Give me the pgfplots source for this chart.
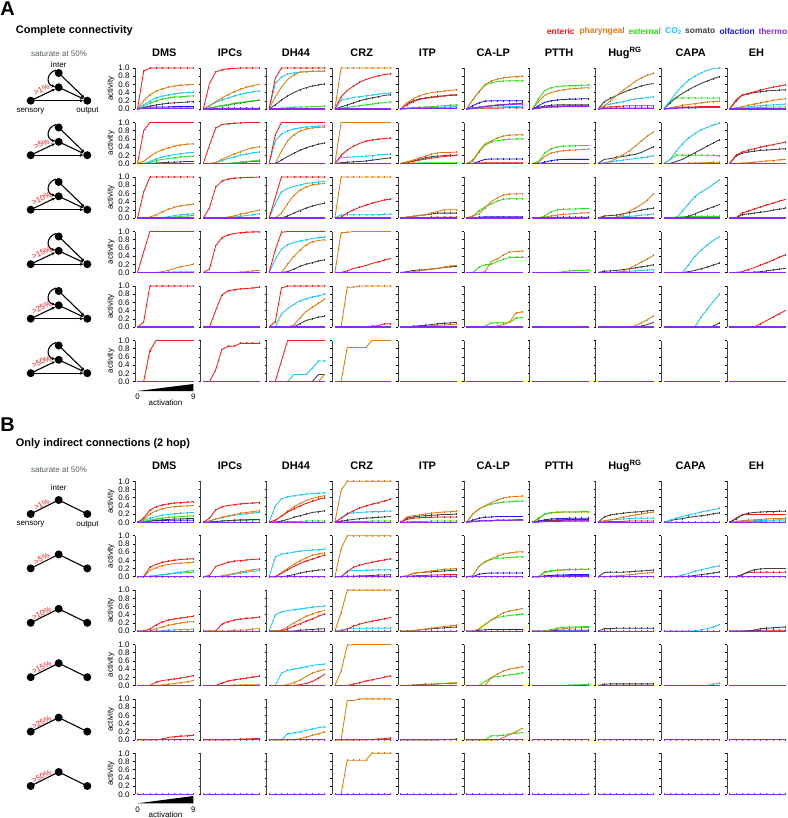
\documentclass[border=0pt]{standalone}
\usepackage{fontspec}
\setmainfont{Liberation Sans}
\usepackage{pgfplots}
\pgfplotsset{compat=1.18}
\usetikzlibrary{arrows.meta}
\definecolor{cE}{RGB}{255,25,25}
\definecolor{cP}{RGB}{228,122,12}
\definecolor{cX}{RGB}{40,228,20}
\definecolor{cC}{RGB}{25,200,255}
\definecolor{cS}{RGB}{60,64,64}
\definecolor{cO}{RGB}{25,25,240}
\definecolor{cT}{RGB}{140,40,255}
\definecolor{cG}{RGB}{85,95,95}
\pgfplotsset{
 ln/.style={line width=0.85pt, mark=|, mark size=0.9pt, mark options={solid,line width=0.4pt}},
 sE/.style={ln,cE}, sP/.style={ln,cP}, sX/.style={ln,cX}, sC/.style={ln,cC},
 sS/.style={ln,cS}, sO/.style={ln,cO}, sT/.style={ln,cT,line width=1.2pt},
 cellax/.style={scale only axis, width=58.6bp, height=41bp, xmin=-0.405, xmax=9.1,
  ymin=0, ymax=1, clip=false, anchor=south west,
  axis x line=none, axis y line=left,
  y axis line style={-, line width=0.9pt, black!75},
  every outer y axis line/.append style={-},
  ytick={0,0.2,0.4,0.6,0.8,1}, tick align=outside, major tick length=2bp,
  ytick style={line width=0.6pt, black},
  yticklabels={,,,,,}, xtick=\empty,
  tick label style={font=\fontsize{8}{9}\selectfont},
  title style={at={(0.5,1)}, anchor=base, yshift=6bp, font=\bfseries\fontsize{11}{12}\selectfont},
  /pgf/number format/assume math mode=true},
 first/.style={yticklabels={0.0,0.2,0.4,0.6,0.8,1.0}, ylabel=activity,
  ylabel style={font=\fontsize{8}{9}\selectfont}, ylabel shift=-3bp}
}
\newcommand\sr[2]{\addplot[#1] table[x expr=\coordindex, y index=0, header=false, row sep=\\]{#2};}
\newcommand\Z{\sr{sT}{0\\0\\0\\0\\0\\0\\0\\0\\0\\0\\}}
\newcommand\cell[4]{%
\begin{axis}[cellax, at={({(135+65.8*#1)*1bp},{-(#2)*1bp})}, #3]
#4
\end{axis}}
\newcommand\netA[2]{%
 \fill (58.7,#1-36) circle (4bp) (58.7,#1-21.7) circle (4bp) (30.7,#1-8.3) circle (4bp) (87.3,#1-8.3) circle (4bp);
 \begin{scope}[line width=1.1pt, -{Stealth[length=3.5bp,width=3.2bp]}]
 \draw[shorten <=3bp, shorten >=4bp] (30.7,#1-8.3) -- (58.7,#1-21.7);
 \draw[shorten <=3bp, shorten >=4bp] (30.7,#1-8.3) -- (87.3,#1-8.3);
 \draw[shorten <=3bp, shorten >=4bp] (58.7,#1-36) -- (87.3,#1-8.3);
 \draw[shorten <=3bp, shorten >=4bp] (58.7,#1-21.7) -- (87.3,#1-8.3);
 \draw (56,#1-39) .. controls (46,#1-36) and (46,#1-24) .. (55.2,#1-22.5);
 \end{scope}
 \node[cE, rotate=26, font=\fontsize{8}{9}\selectfont, inner sep=0] at (41.5,#1-19.5) {#2};}
\newcommand\netB[2]{%
 \fill (58.7,#1-22.3) circle (4bp) (30.7,#1-8.3) circle (4bp) (87.3,#1-8.3) circle (4bp);
 \draw[line width=1.1pt] (30.7,#1-8.3) -- (58.7,#1-22.3) -- (87.3,#1-8.3);
 \node[cE, rotate=27, font=\fontsize{8}{9}\selectfont, inner sep=0] at (41.5,#1-17.8) {#2};}
\begin{document}
\begin{tikzpicture}
\useasboundingbox (0,0) rectangle (788bp,-818bp);
\begin{scope}[x=1bp,y=-1bp]
 \node[font=\bfseries\fontsize{20}{22}\selectfont, inner sep=0] at (7.5,8.5) {A};
 \node[font=\bfseries\fontsize{11}{12}\selectfont, anchor=west, inner sep=0] at (15.7,30.7) {Complete connectivity};
 \node[font=\bfseries\fontsize{20}{22}\selectfont, inner sep=0] at (7.5,424.5) {B};
 \node[font=\bfseries\fontsize{11}{12}\selectfont, anchor=west, inner sep=0] at (15.7,443.3) {Only indirect connections (2 hop)};
 \begin{scope}[every node/.style={font=\bfseries\fontsize{8.5}{9}\selectfont, anchor=west, inner sep=0}]
 \node[cE] at (546.7,31) {enteric};
 \node[cP] at (579.3,31) {pharyngeal};
 \node[cX] at (628.3,31) {external};
 \node[cC] at (665,31) {CO\textsubscript{2}};
 \node[cS] at (685,31) {somato};
 \node[cO] at (719.3,31) {olfaction};
 \node[cT] at (758.3,31) {thermo};
 \end{scope}
 \begin{scope}[every node/.style={font=\fontsize{8}{9}\selectfont, inner sep=0}]
 \node[cG] at (59,54) {saturate at 50\%};
 \node at (58.7,65) {inter};
 \node at (30.5,110.7) {sensory};
 \node at (87.5,110.7) {output};
 \node[cG] at (59,470) {saturate at 50\%};
 \node at (58.7,487.3) {inter};
 \node at (30.5,524.3) {sensory};
 \node at (87.5,524.3) {output};
 \fill (137.7,391) -- (193.3,384) -- (193.3,391) -- cycle;
 \node at (137.7,397) {0};
 \node at (193.3,397) {9};
 \node at (165.5,402.7) {activation};
 \fill (137.7,803.3) -- (193.3,796) -- (193.3,803.3) -- cycle;
 \node at (137.7,809.3) {0};
 \node at (193.3,809.3) {9};
 \node at (165.5,815) {activation};
 \end{scope}
 \netA{109}{>1\%}
 \netA{163.5}{>5\%}
 \netA{218}{>10\%}
 \netA{272.5}{>15\%}
 \netA{327}{>25\%}
 \netA{381.5}{>50\%}
 \netB{522.3}{>1\%}
 \netB{576.7}{>5\%}
 \netB{631.1}{>10\%}
 \netB{685.5}{>15\%}
 \netB{739.9}{>25\%}
 \netB{794.3}{>50\%}
\end{scope}
% ================= PANEL A =================
% ---- row 1 (>1%)
\cell{0}{109}{first,title=DMS}{
 \sr{sO}{0\\.04\\.05\\.05\\.05\\.05\\.06\\.06\\.06\\.06\\}
 \sr{sS}{0\\.03\\.07\\.1\\.12\\.14\\.15\\.16\\.17\\.18\\}
 \sr{sX}{0\\.06\\.14\\.2\\.24\\.27\\.29\\.3\\.31\\.32\\}
 \sr{sC}{0\\.1\\.2\\.27\\.31\\.34\\.37\\.39\\.4\\.41\\}
 \sr{sP}{0\\.2\\.35\\.43\\.49\\.53\\.56\\.58\\.59\\.6\\}
 \sr{sE}{0\\.92\\1\\1\\1\\1\\1\\1\\1\\1\\}
 \sr{sT}{0\\.02\\.02\\.02\\.02\\.02\\.02\\.02\\.02\\.02\\}}
\cell{1}{109}{title=IPCs}{
 \sr{sO}{0\\.01\\.02\\.02\\.02\\.02\\.02\\.02\\.02\\.02\\}
 \sr{sS}{0\\.02\\.05\\.08\\.1\\.13\\.15\\.17\\.19\\.21\\}
 \sr{sX}{0\\.02\\.05\\.08\\.11\\.14\\.16\\.18\\.2\\.22\\}
 \sr{sC}{0\\.08\\.16\\.22\\.27\\.32\\.36\\.39\\.42\\.44\\}
 \sr{sP}{0\\.08\\.18\\.27\\.35\\.42\\.48\\.53\\.57\\.6\\}
 \sr{sE}{0\\.62\\.9\\.96\\.98\\.99\\1\\1\\1\\1\\}
 \Z}
\cell{2}{109}{title=DH44}{
 \sr{sS}{0\\.1\\.22\\.32\\.4\\.47\\.52\\.56\\.59\\.61\\}
 \sr{sX}{0\\.01\\.02\\.03\\.04\\.05\\.05\\.06\\.06\\.07\\}
 \sr{sC}{0\\.62\\.78\\.85\\.88\\.9\\.91\\.92\\.92\\.93\\}
 \sr{sP}{0\\.3\\.53\\.72\\.83\\.9\\.91\\.92\\.92\\.92\\}
 \sr{sE}{0\\.75\\1\\1\\1\\1\\1\\1\\1\\1\\}
 \Z}
\cell{3}{109}{title=CRZ}{
 \sr{sS}{0\\.05\\.1\\.15\\.2\\.24\\.27\\.3\\.33\\.35\\}
 \sr{sX}{0\\.02\\.04\\.06\\.08\\.1\\.12\\.14\\.16\\.17\\}
 \sr{sC}{0\\.22\\.25\\.28\\.3\\.32\\.34\\.36\\.38\\.39\\}
 \sr{sE}{0\\.3\\.45\\.56\\.65\\.72\\.77\\.81\\.84\\.86\\}
 \sr{sP}{0\\1\\1\\1\\1\\1\\1\\1\\1\\1\\}
 \Z}
\cell{4}{109}{title=ITP}{
 \sr{sX}{0\\.02\\.03\\.04\\.05\\.06\\.07\\.08\\.09\\.1\\}
 \sr{sC}{0\\.01\\.02\\.03\\.03\\.04\\.04\\.05\\.05\\.06\\}
 \sr{sS}{0\\.13\\.2\\.24\\.27\\.29\\.31\\.32\\.33\\.34\\}
 \sr{sE}{0\\.1\\.18\\.23\\.26\\.28\\.3\\.32\\.34\\.35\\}
 \sr{sP}{0\\.15\\.25\\.32\\.37\\.4\\.42\\.44\\.45\\.47\\}
 \sr{sT}{0\\.01\\.02\\.02\\.02\\.02\\.02\\.02\\.02\\.02\\}}
\cell{5}{109}{title=CA-LP}{
 \sr{sE}{0\\.01\\.01\\.02\\.02\\.02\\.03\\.03\\.03\\.03\\}
 \sr{sC}{0\\.01\\.02\\.03\\.04\\.05\\.05\\.06\\.06\\.07\\}
 \sr{sS}{0\\.02\\.04\\.06\\.08\\.1\\.11\\.12\\.13\\.14\\}
 \sr{sO}{0\\.08\\.15\\.19\\.2\\.2\\.2\\.2\\.2\\.2\\}
 \sr{sX}{0\\.22\\.42\\.58\\.64\\.67\\.68\\.69\\.69\\.69\\}
 \sr{sP}{0\\.22\\.42\\.6\\.68\\.73\\.76\\.78\\.79\\.8\\}
 \sr{sT}{0\\.02\\.04\\.06\\.08\\.09\\.1\\.11\\.12\\.12\\}}
\cell{6}{109}{title=PTTH}{
 \sr{sE}{0\\.03\\.05\\.06\\.07\\.07\\.08\\.08\\.08\\.08\\}
 \sr{sS}{0\\.04\\.07\\.09\\.1\\.1\\.1\\.1\\.1\\.1\\}
 \sr{sO}{0\\.08\\.16\\.2\\.22\\.23\\.24\\.24\\.25\\.25\\}
 \sr{sP}{0\\.18\\.33\\.4\\.44\\.47\\.49\\.5\\.51\\.52\\}
 \sr{sX}{0\\.25\\.45\\.52\\.55\\.56\\.57\\.57\\.58\\.58\\}
 \sr{sT}{0\\.02\\.04\\.05\\.05\\.06\\.06\\.06\\.06\\.06\\}}
\cell{7}{109}{title={Hug\textsuperscript{RG}}}{
 \sr{sE}{0\\.04\\.05\\.06\\.07\\.08\\.08\\.08\\.08\\.08\\}
 \sr{sC}{0\\.08\\.12\\.15\\.18\\.21\\.24\\.26\\.28\\.3\\}
 \sr{sS}{0\\.18\\.26\\.33\\.4\\.46\\.51\\.56\\.6\\.62\\}
 \sr{sP}{0\\.08\\.2\\.33\\.45\\.56\\.67\\.76\\.82\\.87\\}
 \sr{sT}{0\\.01\\.02\\.02\\.02\\.02\\.02\\.02\\.02\\.02\\}}
\cell{8}{109}{title=CAPA}{
 \sr{sE}{0\\.02\\.03\\.04\\.05\\.05\\.06\\.06\\.06\\.06\\}
 \sr{sP}{0\\.03\\.06\\.09\\.11\\.13\\.15\\.17\\.18\\.19\\}
 \sr{sX}{0\\.2\\.27\\.27\\.27\\.27\\.27\\.27\\.27\\.27\\}
 \sr{sS}{0\\.15\\.28\\.38\\.47\\.55\\.62\\.68\\.74\\.79\\}
 \sr{sC}{0\\.2\\.4\\.57\\.7\\.8\\.88\\.94\\.99\\1\\}
 \sr{sT}{0\\.01\\.02\\.03\\.03\\.03\\.04\\.04\\.04\\.04\\}}
\cell{9}{109}{title=EH}{
 \sr{sX}{0\\.01\\.02\\.03\\.03\\.04\\.04\\.05\\.05\\.05\\}
 \sr{sC}{0\\.02\\.04\\.05\\.07\\.08\\.09\\.1\\.11\\.12\\}
 \sr{sP}{0\\.03\\.06\\.09\\.12\\.15\\.18\\.21\\.23\\.25\\}
 \sr{sS}{0\\.2\\.33\\.37\\.4\\.42\\.44\\.45\\.46\\.47\\}
 \sr{sE}{0\\.22\\.34\\.38\\.42\\.46\\.5\\.53\\.56\\.59\\}
 \Z}
% ---- row 2 (>5%)
\cell{0}{163.5}{first}{
 \sr{sS}{0\\0\\0\\.01\\.02\\.03\\.03\\.04\\.05\\.05\\}
 \sr{sX}{0\\0\\.03\\.07\\.1\\.12\\.14\\.16\\.17\\.18\\}
 \sr{sC}{0\\0\\.05\\.11\\.16\\.19\\.22\\.24\\.26\\.27\\}
 \sr{sP}{0\\.05\\.17\\.27\\.33\\.38\\.42\\.45\\.47\\.48\\}
 \sr{sE}{0\\.8\\1\\1\\1\\1\\1\\1\\1\\1\\}
 \Z}
\cell{1}{163.5}{}{
 \sr{sS}{0\\0\\0\\0\\0\\.01\\.02\\.04\\.05\\.06\\}
 \sr{sX}{0\\0\\0\\0\\0\\.01\\.03\\.05\\.06\\.08\\}
 \sr{sC}{0\\0\\.02\\.07\\.12\\.16\\.2\\.23\\.26\\.28\\}
 \sr{sP}{0\\0\\.02\\.1\\.17\\.23\\.29\\.34\\.38\\.41\\}
 \sr{sE}{0\\.45\\.86\\.95\\.97\\.98\\.99\\1\\1\\1\\}
 \Z}
\cell{2}{163.5}{}{
 \sr{sS}{0\\0\\.08\\.17\\.25\\.32\\.38\\.43\\.47\\.5\\}
 \sr{sC}{0\\.55\\.72\\.79\\.84\\.87\\.89\\.9\\.91\\.92\\}
 \sr{sP}{0\\0\\.3\\.55\\.7\\.79\\.84\\.87\\.88\\.89\\}
 \sr{sE}{0\\.7\\1\\1\\1\\1\\1\\1\\1\\1\\}
 \Z}
\cell{3}{163.5}{}{
 \sr{sS}{0\\.02\\.03\\.04\\.05\\.06\\.08\\.1\\.12\\.14\\}
 \sr{sC}{0\\.15\\.15\\.16\\.17\\.18\\.19\\.21\\.22\\.23\\}
 \sr{sE}{0\\.2\\.33\\.42\\.49\\.54\\.57\\.59\\.61\\.62\\}
 \sr{sP}{0\\1\\1\\1\\1\\1\\1\\1\\1\\1\\}
 \Z}
\cell{4}{163.5}{}{
 \sr{sX}{0\\.01\\.01\\.01\\.02\\.02\\.02\\.02\\.02\\.02\\}
 \sr{sS}{0\\.03\\.06\\.1\\.14\\.17\\.18\\.19\\.2\\.2\\}
 \sr{sE}{0\\.02\\.05\\.08\\.11\\.13\\.15\\.17\\.19\\.2\\}
 \sr{sP}{0\\.04\\.08\\.13\\.18\\.23\\.26\\.27\\.27\\.28\\}
 \Z}
\cell{5}{163.5}{}{
 \sr{sE}{0\\0\\.01\\.02\\.02\\.02\\.02\\.02\\.02\\.02\\}
 \sr{sO}{0\\0\\.05\\.1\\.11\\.11\\.11\\.11\\.11\\.11\\}
 \sr{sX}{0\\.05\\.28\\.45\\.52\\.56\\.58\\.59\\.6\\.6\\}
 \sr{sP}{0\\.08\\.3\\.48\\.55\\.62\\.67\\.69\\.7\\.7\\}
 \Z}
\cell{6}{163.5}{}{
 \sr{sO}{0\\0\\.03\\.07\\.09\\.1\\.1\\.1\\.1\\.1\\}
 \sr{sP}{0\\.03\\.17\\.25\\.29\\.31\\.32\\.33\\.34\\.35\\}
 \sr{sX}{0\\.05\\.25\\.36\\.4\\.42\\.43\\.43\\.44\\.44\\}
 \Z}
\cell{7}{163.5}{}{
 \sr{sC}{0\\.02\\.04\\.06\\.08\\.1\\.12\\.14\\.16\\.19\\}
 \sr{sS}{0\\.1\\.12\\.15\\.17\\.2\\.22\\.27\\.34\\.41\\}
 \sr{sP}{0\\0\\.05\\.13\\.21\\.3\\.42\\.55\\.67\\.77\\}
 \Z}
\cell{8}{163.5}{}{
 \sr{sP}{0\\0\\0\\0\\.01\\.01\\.02\\.02\\.03\\.03\\}
 \sr{sX}{0\\.1\\.2\\.2\\.2\\.2\\.2\\.2\\.2\\.19\\}
 \sr{sS}{0\\0\\.05\\.1\\.18\\.26\\.34\\.42\\.5\\.58\\}
 \sr{sC}{0\\.1\\.3\\.48\\.62\\.73\\.82\\.88\\.94\\.98\\}
 \Z}
\cell{9}{163.5}{}{
 \sr{sP}{0\\0\\.01\\.02\\.03\\.05\\.06\\.07\\.09\\.1\\}
 \sr{sS}{0\\.18\\.25\\.28\\.3\\.32\\.33\\.34\\.35\\.36\\}
 \sr{sE}{0\\.2\\.28\\.32\\.36\\.4\\.43\\.46\\.49\\.52\\}
 \Z}
% ---- row 3 (>10%)
\cell{0}{218}{first}{
 \sr{sX}{0\\0\\0\\0\\0\\.01\\.02\\.04\\.05\\.06\\}
 \sr{sC}{0\\0\\0\\0\\.01\\.03\\.06\\.08\\.09\\.1\\}
 \sr{sP}{0\\0\\.02\\.08\\.15\\.21\\.26\\.3\\.32\\.34\\}
 \sr{sE}{0\\.63\\1\\1\\1\\1\\1\\1\\1\\1\\}
 \Z}
\cell{1}{218}{}{
 \sr{sC}{0\\0\\0\\0\\0\\.02\\.04\\.06\\.08\\.1\\}
 \sr{sP}{0\\0\\0\\0\\.02\\.05\\.09\\.12\\.16\\.19\\}
 \sr{sE}{0\\.25\\.75\\.9\\.95\\.97\\.98\\.99\\.99\\1\\}
 \Z}
\cell{2}{218}{}{
 \sr{sS}{0\\0\\0\\.05\\.12\\.18\\.24\\.29\\.33\\.36\\}
 \sr{sC}{0\\.35\\.64\\.72\\.77\\.81\\.84\\.86\\.88\\.89\\}
 \sr{sP}{0\\0\\.12\\.35\\.55\\.68\\.76\\.81\\.83\\.84\\}
 \sr{sE}{0\\.5\\1\\1\\1\\1\\1\\1\\1\\1\\}
 \Z}
\cell{3}{218}{}{
 \sr{sC}{0\\.08\\.08\\.08\\.08\\.08\\.08\\.08\\.09\\.09\\}
 \sr{sE}{0\\.02\\.12\\.2\\.26\\.31\\.36\\.4\\.44\\.46\\}
 \sr{sP}{0\\1\\1\\1\\1\\1\\1\\1\\1\\1\\}
 \Z}
\cell{4}{218}{}{
 \sr{sE}{0\\.01\\.01\\.01\\.01\\.02\\.02\\.02\\.02\\.02\\}
 \sr{sS}{0\\.02\\.04\\.06\\.08\\.1\\.12\\.12\\.12\\.12\\}
 \sr{sP}{0\\.02\\.04\\.06\\.08\\.12\\.16\\.2\\.2\\.2\\}
 \Z}
\cell{5}{218}{}{
 \sr{sO}{0\\0\\.02\\.03\\.03\\.03\\.03\\.03\\.03\\.03\\}
 \sr{sX}{0\\.03\\.18\\.27\\.35\\.41\\.46\\.47\\.47\\.47\\}
 \sr{sP}{0\\.05\\.1\\.25\\.4\\.49\\.56\\.58\\.59\\.59\\}
 \Z}
\cell{6}{218}{}{
 \sr{sO}{0\\0\\.01\\.02\\.02\\.02\\.02\\.02\\.02\\.02\\}
 \sr{sP}{0\\0\\.02\\.05\\.07\\.09\\.1\\.11\\.12\\.13\\}
 \sr{sX}{0\\0\\.05\\.15\\.2\\.21\\.22\\.22\\.23\\.23\\}
 \Z}
\cell{7}{218}{}{
 \sr{sC}{0\\0\\.01\\.02\\.03\\.04\\.05\\.07\\.08\\.1\\}
 \sr{sS}{0\\.05\\.06\\.07\\.1\\.13\\.16\\.19\\.22\\.24\\}
 \sr{sP}{0\\0\\0\\.02\\.08\\.16\\.24\\.33\\.44\\.59\\}
 \Z}
\cell{8}{218}{}{
 \sr{sX}{0\\0\\.02\\.03\\.04\\.04\\.04\\.04\\.04\\.04\\}
 \sr{sS}{0\\0\\0\\0\\.04\\.1\\.16\\.22\\.27\\.33\\}
 \sr{sC}{0\\0\\0\\.17\\.35\\.52\\.63\\.72\\.82\\.93\\}
 \Z}
\cell{9}{218}{}{
 \sr{sS}{0\\0\\.08\\.1\\.12\\.14\\.16\\.19\\.21\\.24\\}
 \sr{sE}{0\\0\\.12\\.17\\.22\\.27\\.32\\.36\\.41\\.45\\}
 \Z}
% ---- row 4 (>15%)
\cell{0}{272.5}{first}{
 \sr{sC}{0\\0\\0\\0\\0\\.01\\.01\\.02\\.02\\.02\\}
 \sr{sP}{0\\0\\0\\0\\.02\\.05\\.1\\.14\\.17\\.2\\}
 \sr{sE}{0\\.5\\1\\1\\1\\1\\1\\1\\1\\1\\}
 \Z}
\cell{1}{272.5}{}{
 \sr{sP}{0\\0\\0\\0\\0\\0\\.01\\.02\\.04\\.05\\}
 \sr{sE}{0\\.08\\.65\\.85\\.92\\.95\\.97\\.98\\.99\\.99\\}
 \Z}
\cell{2}{272.5}{}{
 \sr{sS}{0\\0\\0\\.02\\.08\\.15\\.2\\.24\\.28\\.31\\}
 \sr{sC}{0\\.32\\.57\\.68\\.73\\.77\\.8\\.83\\.85\\.86\\}
 \sr{sP}{0\\0\\0\\.2\\.4\\.55\\.67\\.75\\.78\\.8\\}
 \sr{sE}{0\\.55\\.98\\1\\1\\1\\1\\1\\1\\1\\}
 \Z}
\cell{3}{272.5}{}{
 \sr{sE}{0\\0\\.04\\.1\\.13\\.17\\.22\\.26\\.3\\.34\\}
 \sr{sP}{0\\.97\\.98\\1\\1\\1\\1\\1\\1\\1\\}
 \Z}
\cell{4}{272.5}{}{
 \sr{sS}{0\\.02\\.05\\.06\\.07\\.09\\.1\\.12\\.14\\.15\\}
 \sr{sP}{0\\0\\.02\\.04\\.06\\.08\\.1\\.13\\.16\\.17\\}
 \Z}
\cell{5}{272.5}{}{
 \sr{sX}{0\\0\\.13\\.19\\.2\\.27\\.32\\.37\\.37\\.37\\}
 \sr{sP}{0\\0\\0\\.02\\.27\\.33\\.43\\.5\\.51\\.52\\}
 \Z}
\cell{6}{272.5}{}{
 \sr{sX}{0\\0\\0\\0\\0\\.02\\.04\\.05\\.05\\.06\\}
 \Z}
\cell{7}{272.5}{}{
 \sr{sC}{0\\0\\0\\.01\\.02\\.03\\.04\\.05\\.06\\.07\\}
 \sr{sS}{0\\.03\\.04\\.05\\.07\\.09\\.11\\.14\\.16\\.19\\}
 \sr{sP}{0\\0\\0\\0\\.03\\.1\\.17\\.25\\.33\\.42\\}
 \Z}
\cell{8}{272.5}{}{
 \sr{sS}{0\\0\\0\\0\\.02\\.05\\.09\\.13\\.18\\.23\\}
 \sr{sC}{0\\0\\0\\0\\.19\\.39\\.54\\.67\\.78\\.88\\}
 \Z}
\cell{9}{272.5}{}{
 \sr{sS}{0\\0\\0\\0\\.01\\.02\\.04\\.06\\.08\\.1\\}
 \sr{sE}{0\\0\\.02\\.07\\.12\\.18\\.24\\.3\\.37\\.43\\}
 \Z}
% ---- row 5 (>25%)
\cell{0}{327}{first}{
 \sr{sE}{0\\.12\\1\\1\\1\\1\\1\\1\\1\\1\\}
 \Z}
\cell{1}{327}{}{
 \sr{sE}{0\\0\\.4\\.78\\.88\\.91\\.93\\.94\\.95\\.97\\}
 \Z}
\cell{2}{327}{}{
 \sr{sS}{0\\0\\0\\0\\0\\.08\\.16\\.2\\.24\\.26\\}
 \sr{sC}{0\\0\\.32\\.45\\.55\\.64\\.69\\.73\\.76\\.8\\}
 \sr{sP}{0\\0\\0\\0\\.05\\.22\\.38\\.48\\.58\\.68\\}
 \sr{sE}{0\\.13\\.95\\1\\1\\1\\1\\1\\1\\1\\}
 \Z}
\cell{3}{327}{}{
 \sr{sE}{0\\0\\0\\.01\\.01\\.01\\.02\\.03\\.08\\.08\\}
 \sr{sP}{0\\0\\.97\\.97\\1\\1\\1\\1\\1\\1\\}
 \Z}
\cell{4}{327}{}{
 \sr{sP}{0\\0\\0\\.01\\.02\\.03\\.04\\.05\\.06\\.07\\}
 \sr{sS}{0\\0\\.02\\.03\\.04\\.06\\.08\\.09\\.1\\.11\\}
 \Z}
\cell{5}{327}{}{
 \sr{sX}{0\\0\\0\\.02\\.1\\.1\\.1\\.11\\.22\\.23\\}
 \sr{sP}{0\\0\\0\\0\\0\\.02\\.06\\.12\\.34\\.37\\}
 \Z}
\cell{6}{327}{}{\Z}
\cell{7}{327}{}{
 \sr{sS}{0\\0\\0\\0\\0\\0\\0\\.02\\.06\\.11\\}
 \sr{sP}{0\\0\\0\\0\\0\\0\\.03\\.1\\.18\\.27\\}
 \Z}
\cell{8}{327}{}{
 \sr{sS}{0\\0\\0\\0\\0\\0\\0\\0\\.02\\.1\\}
 \sr{sC}{0\\0\\0\\0\\0\\0\\.24\\.43\\.62\\.8\\}
 \Z}
\cell{9}{327}{}{
 \sr{sE}{0\\0\\0\\0\\0\\.08\\.16\\.24\\.32\\.4\\}
 \Z}
% ---- row 6 (>50%)
\cell{0}{381.5}{first}{
 \sr{sE}{0\\0\\.75\\1\\1\\1\\1\\1\\1\\1\\}
 \Z}
\cell{1}{381.5}{}{
 \sr{sE}{0\\0\\.28\\.78\\.86\\.86\\.93\\.93\\.93\\.93\\}
 \Z}
\cell{2}{381.5}{}{
 \sr{sS}{0\\0\\0\\0\\0\\0\\0\\0\\.17\\.17\\}
 \sr{sC}{0\\0\\0\\0\\.17\\.17\\.17\\.33\\.5\\.5\\}
 \sr{sP}{0\\0\\0\\0\\0\\0\\0\\0\\0\\.17\\}
 \sr{sE}{0\\0\\.5\\1\\1\\1\\1\\1\\1\\1\\}
 \Z}
\cell{3}{381.5}{}{
 \sr{sP}{0\\0\\.83\\.83\\.83\\.83\\1\\1\\1\\1\\}
 \Z}
\cell{4}{381.5}{}{\Z}
\cell{5}{381.5}{}{\Z}
\cell{6}{381.5}{}{\Z}
\cell{7}{381.5}{}{\Z}
\cell{8}{381.5}{}{\Z}
\cell{9}{381.5}{}{\Z}
% ================= PANEL B =================
% ---- row 1 (>1%)
\cell{0}{522.3}{first,title=DMS}{
 \sr{sO}{0\\.02\\.03\\.04\\.04\\.05\\.05\\.05\\.05\\.05\\}
 \sr{sS}{0\\.02\\.03\\.05\\.06\\.07\\.08\\.08\\.09\\.09\\}
 \sr{sX}{0\\.02\\.05\\.08\\.1\\.12\\.13\\.14\\.15\\.16\\}
 \sr{sC}{0\\.05\\.1\\.14\\.17\\.19\\.21\\.22\\.23\\.24\\}
 \sr{sP}{0\\.07\\.2\\.28\\.33\\.36\\.38\\.39\\.4\\.41\\}
 \sr{sE}{0\\.1\\.3\\.38\\.42\\.45\\.47\\.48\\.49\\.5\\}
 \Z}
\cell{1}{522.3}{title=IPCs}{
 \sr{sX}{0\\.01\\.02\\.03\\.04\\.04\\.05\\.05\\.06\\.06\\}
 \sr{sS}{0\\.01\\.02\\.03\\.04\\.05\\.06\\.06\\.07\\.07\\}
 \sr{sC}{0\\.03\\.08\\.11\\.14\\.17\\.19\\.21\\.23\\.24\\}
 \sr{sP}{0\\.03\\.08\\.12\\.16\\.19\\.22\\.24\\.26\\.28\\}
 \sr{sE}{0\\.1\\.3\\.38\\.41\\.43\\.45\\.46\\.47\\.48\\}
 \Z}
\cell{2}{522.3}{title=DH44}{
 \sr{sX}{0\\.01\\.01\\.02\\.02\\.02\\.03\\.03\\.03\\.03\\}
 \sr{sS}{0\\0\\.03\\.07\\.12\\.16\\.2\\.24\\.26\\.28\\}
 \sr{sC}{0\\.4\\.57\\.62\\.65\\.67\\.69\\.7\\.71\\.72\\}
 \sr{sP}{0\\.05\\.15\\.27\\.38\\.46\\.53\\.58\\.62\\.65\\}
 \sr{sE}{0\\.05\\.15\\.25\\.33\\.4\\.46\\.51\\.56\\.6\\}
 \Z}
\cell{3}{522.3}{title=CRZ}{
 \sr{sX}{0\\.01\\.01\\.02\\.02\\.02\\.03\\.03\\.03\\.03\\}
 \sr{sS}{0\\.03\\.05\\.07\\.09\\.1\\.11\\.12\\.13\\.14\\}
 \sr{sC}{0\\.1\\.22\\.23\\.24\\.25\\.26\\.26\\.27\\.27\\}
 \sr{sE}{0\\.1\\.2\\.28\\.35\\.4\\.44\\.48\\.52\\.56\\}
 \sr{sP}{0\\.78\\1\\1\\1\\1\\1\\1\\1\\1\\}
 \Z}
\cell{4}{522.3}{title=ITP}{
 \sr{sX}{0\\.01\\.02\\.02\\.02\\.03\\.03\\.03\\.03\\.03\\}
 \sr{sE}{0\\.07\\.1\\.11\\.12\\.12\\.13\\.13\\.13\\.13\\}
 \sr{sS}{0\\.1\\.13\\.15\\.16\\.17\\.18\\.19\\.19\\.2\\}
 \sr{sP}{0\\.13\\.16\\.18\\.2\\.22\\.24\\.25\\.26\\.27\\}
 \Z}
\cell{5}{522.3}{title=CA-LP}{
 \sr{sS}{0\\.02\\.03\\.04\\.04\\.05\\.05\\.05\\.05\\.05\\}
 \sr{sO}{0\\.05\\.1\\.12\\.13\\.14\\.14\\.14\\.14\\.14\\}
 \sr{sX}{0\\.2\\.32\\.4\\.44\\.47\\.49\\.5\\.51\\.52\\}
 \sr{sP}{0\\.2\\.32\\.4\\.48\\.54\\.59\\.62\\.63\\.64\\}
 \sr{sT}{0\\.02\\.03\\.04\\.04\\.05\\.05\\.05\\.06\\.06\\}}
\cell{6}{522.3}{title=PTTH}{
 \sr{sE}{0\\.02\\.03\\.04\\.04\\.05\\.05\\.05\\.05\\.05\\}
 \sr{sS}{0\\.02\\.04\\.05\\.06\\.06\\.07\\.07\\.07\\.07\\}
 \sr{sO}{0\\.03\\.06\\.08\\.09\\.09\\.1\\.1\\.1\\.1\\}
 \sr{sP}{0\\.08\\.19\\.23\\.24\\.25\\.25\\.25\\.25\\.25\\}
 \sr{sX}{0\\.1\\.2\\.24\\.25\\.25\\.25\\.25\\.26\\.26\\}
 \sr{sT}{0\\.01\\.02\\.02\\.02\\.03\\.03\\.03\\.03\\.03\\}}
\cell{7}{522.3}{title={Hug\textsuperscript{RG}}}{
 \sr{sE}{0\\.01\\.02\\.02\\.02\\.03\\.03\\.03\\.03\\.03\\}
 \sr{sC}{0\\.04\\.06\\.07\\.08\\.09\\.1\\.1\\.1\\.1\\}
 \sr{sP}{0\\.03\\.06\\.09\\.12\\.15\\.18\\.2\\.23\\.25\\}
 \sr{sS}{0\\.13\\.18\\.2\\.22\\.24\\.25\\.26\\.28\\.29\\}
 \Z}
\cell{8}{522.3}{title=CAPA}{
 \sr{sS}{0\\.04\\.07\\.09\\.12\\.14\\.16\\.18\\.21\\.23\\}
 \sr{sC}{0\\.05\\.1\\.14\\.18\\.21\\.25\\.28\\.31\\.34\\}
 \Z}
\cell{9}{522.3}{title=EH}{
 \sr{sX}{0\\.01\\.01\\.02\\.02\\.02\\.03\\.03\\.03\\.03\\}
 \sr{sC}{0\\.01\\.02\\.03\\.04\\.04\\.05\\.05\\.06\\.06\\}
 \sr{sP}{0\\.02\\.04\\.05\\.06\\.07\\.08\\.09\\.09\\.1\\}
 \sr{sE}{0\\.1\\.18\\.19\\.19\\.19\\.19\\.19\\.19\\.19\\}
 \sr{sS}{0\\.08\\.18\\.22\\.24\\.25\\.26\\.26\\.27\\.27\\}
 \Z}
% ---- row 2 (>5%)
\cell{0}{576.7}{first}{
 \sr{sX}{0\\0\\.01\\.03\\.05\\.06\\.08\\.09\\.1\\.11\\}
 \sr{sC}{0\\0\\.01\\.03\\.05\\.07\\.09\\.11\\.13\\.15\\}
 \sr{sP}{0\\0\\.15\\.22\\.27\\.3\\.32\\.33\\.34\\.35\\}
 \sr{sE}{0\\0\\.23\\.3\\.35\\.38\\.4\\.42\\.43\\.44\\}
 \Z}
\cell{1}{576.7}{}{
 \sr{sC}{0\\0\\0\\.01\\.03\\.06\\.09\\.11\\.13\\.15\\}
 \sr{sP}{0\\0\\0\\.02\\.05\\.08\\.11\\.14\\.17\\.19\\}
 \sr{sE}{0\\.03\\.25\\.3\\.35\\.38\\.39\\.41\\.42\\.43\\}
 \Z}
\cell{2}{576.7}{}{
 \sr{sS}{0\\0\\0\\.02\\.05\\.09\\.12\\.14\\.16\\.17\\}
 \sr{sC}{0\\.48\\.55\\.57\\.6\\.62\\.64\\.65\\.66\\.67\\}
 \sr{sP}{0\\0\\.1\\.2\\.3\\.39\\.46\\.52\\.56\\.58\\}
 \sr{sE}{0\\0\\.08\\.17\\.25\\.32\\.38\\.43\\.48\\.53\\}
 \Z}
\cell{3}{576.7}{}{
 \sr{sS}{0\\0\\.01\\.01\\.02\\.02\\.03\\.04\\.04\\.05\\}
 \sr{sC}{0\\0\\.14\\.15\\.15\\.16\\.16\\.17\\.17\\.17\\}
 \sr{sE}{0\\0\\.12\\.23\\.28\\.32\\.35\\.38\\.41\\.44\\}
 \sr{sP}{0\\.68\\1\\1\\1\\1\\1\\1\\1\\1\\}
 \Z}
\cell{4}{576.7}{}{
 \sr{sE}{0\\.01\\.02\\.03\\.03\\.04\\.04\\.05\\.05\\.05\\}
 \sr{sS}{0\\.02\\.08\\.1\\.11\\.12\\.13\\.14\\.15\\.16\\}
 \sr{sP}{0\\.02\\.08\\.1\\.12\\.14\\.16\\.18\\.19\\.2\\}
 \Z}
\cell{5}{576.7}{}{
 \sr{sO}{0\\0\\.06\\.08\\.09\\.09\\.09\\.09\\.09\\.09\\}
 \sr{sX}{0\\.02\\.25\\.36\\.42\\.45\\.46\\.47\\.48\\.49\\}
 \sr{sP}{0\\.02\\.25\\.37\\.44\\.5\\.55\\.58\\.6\\.61\\}
 \Z}
\cell{6}{576.7}{}{
 \sr{sE}{0\\0\\.01\\.02\\.02\\.02\\.03\\.03\\.03\\.03\\}
 \sr{sO}{0\\0\\.02\\.03\\.04\\.04\\.05\\.05\\.05\\.05\\}
 \sr{sP}{0\\0\\.1\\.13\\.15\\.16\\.17\\.17\\.18\\.18\\}
 \sr{sX}{0\\0\\.12\\.15\\.16\\.17\\.18\\.18\\.18\\.18\\}
 \Z}
\cell{7}{576.7}{}{
 \sr{sP}{0\\0\\.01\\.02\\.03\\.05\\.06\\.08\\.09\\.11\\}
 \sr{sS}{0\\.1\\.11\\.11\\.11\\.12\\.13\\.14\\.15\\.16\\}
 \Z}
\cell{8}{576.7}{}{
 \sr{sS}{0\\0\\0\\0\\.01\\.03\\.05\\.07\\.09\\.11\\}
 \sr{sC}{0\\0\\0\\.04\\.08\\.13\\.17\\.2\\.24\\.27\\}
 \Z}
\cell{9}{576.7}{}{
 \sr{sE}{0\\0\\.05\\.1\\.11\\.11\\.11\\.11\\.11\\.11\\}
 \sr{sS}{0\\0\\.05\\.12\\.17\\.19\\.2\\.2\\.2\\.2\\}
 \Z}
% ---- row 3 (>10%)
\cell{0}{631.1}{first}{
 \sr{sC}{0\\0\\0\\0\\.01\\.02\\.03\\.04\\.04\\.05\\}
 \sr{sP}{0\\0\\0\\.06\\.1\\.14\\.17\\.2\\.22\\.23\\}
 \sr{sE}{0\\0\\.05\\.15\\.22\\.27\\.3\\.32\\.34\\.36\\}
 \Z}
\cell{1}{631.1}{}{
 \sr{sP}{0\\0\\0\\0\\0\\.02\\.02\\.03\\.05\\.06\\}
 \sr{sE}{0\\0\\0\\.17\\.23\\.27\\.29\\.31\\.32\\.34\\}
 \Z}
\cell{2}{631.1}{}{
 \sr{sS}{0\\0\\0\\0\\0\\.02\\.03\\.04\\.05\\.06\\}
 \sr{sC}{0\\.4\\.47\\.5\\.52\\.54\\.56\\.58\\.6\\.61\\}
 \sr{sP}{0\\0\\.02\\.1\\.2\\.28\\.36\\.42\\.47\\.5\\}
 \sr{sE}{0\\0\\0\\.05\\.12\\.18\\.24\\.3\\.36\\.42\\}
 \Z}
\cell{3}{631.1}{}{
 \sr{sC}{0\\.02\\.06\\.07\\.07\\.07\\.07\\.07\\.07\\.07\\}
 \sr{sE}{0\\0\\.05\\.12\\.17\\.21\\.24\\.27\\.3\\.33\\}
 \sr{sP}{0\\.45\\1\\1\\1\\1\\1\\1\\1\\1\\}
 \Z}
\cell{4}{631.1}{}{
 \sr{sS}{0\\0\\.01\\.03\\.04\\.06\\.07\\.08\\.09\\.1\\}
 \sr{sP}{0\\0\\.01\\.03\\.05\\.07\\.09\\.11\\.13\\.14\\}
 \Z}
\cell{5}{631.1}{}{
 \sr{sO}{0\\0\\.02\\.03\\.04\\.04\\.04\\.04\\.04\\.04\\}
 \sr{sX}{0\\0\\.05\\.16\\.27\\.33\\.36\\.38\\.4\\.41\\}
 \sr{sP}{0\\0\\.05\\.16\\.27\\.36\\.45\\.49\\.52\\.55\\}
 \Z}
\cell{6}{631.1}{}{
 \sr{sO}{0\\0\\0\\.01\\.02\\.02\\.02\\.02\\.02\\.02\\}
 \sr{sP}{0\\0\\0\\.02\\.04\\.06\\.07\\.08\\.08\\.09\\}
 \sr{sX}{0\\0\\0\\.04\\.07\\.09\\.1\\.1\\.11\\.11\\}
 \Z}
\cell{7}{631.1}{}{
 \sr{sS}{0\\.06\\.06\\.07\\.07\\.07\\.07\\.07\\.07\\.07\\}
 \Z}
\cell{8}{631.1}{}{
 \sr{sC}{0\\0\\0\\0\\0\\.01\\.03\\.06\\.1\\.16\\}
 \Z}
\cell{9}{631.1}{}{
 \sr{sE}{0\\0\\0\\.01\\.01\\.02\\.02\\.02\\.02\\.02\\}
 \sr{sS}{0\\0\\0\\.01\\.02\\.06\\.07\\.08\\.09\\.1\\}
 \Z}
% ---- row 4 (>15%)
\cell{0}{685.5}{first}{
 \sr{sP}{0\\0\\0\\0\\.01\\.03\\.05\\.07\\.09\\.12\\}
 \sr{sE}{0\\0\\0\\.08\\.12\\.14\\.16\\.18\\.21\\.24\\}
 \Z}
\cell{1}{685.5}{}{
 \sr{sP}{0\\0\\0\\0\\0\\.01\\.01\\.02\\.02\\.02\\}
 \sr{sE}{0\\0\\0\\.06\\.11\\.14\\.16\\.18\\.2\\.23\\}
 \Z}
\cell{2}{685.5}{}{
 \sr{sC}{0\\0\\.3\\.37\\.4\\.43\\.46\\.49\\.51\\.52\\}
 \sr{sP}{0\\0\\0\\.02\\.07\\.13\\.22\\.3\\.35\\.39\\}
 \sr{sE}{0\\0\\0\\0\\0\\.02\\.05\\.1\\.18\\.27\\}
 \Z}
\cell{3}{685.5}{}{
 \sr{sE}{0\\0\\0\\.03\\.07\\.11\\.14\\.17\\.2\\.24\\}
 \sr{sP}{0\\.35\\.98\\1\\1\\1\\1\\1\\1\\1\\}
 \Z}
\cell{4}{685.5}{}{
 \sr{sS}{0\\0\\.01\\.02\\.03\\.03\\.04\\.05\\.05\\.06\\}
 \sr{sP}{0\\0\\0\\.01\\.02\\.03\\.04\\.05\\.06\\.07\\}
 \Z}
\cell{5}{685.5}{}{
 \sr{sX}{0\\0\\0\\.1\\.19\\.22\\.24\\.26\\.28\\.31\\}
 \sr{sP}{0\\0\\0\\0\\.19\\.28\\.35\\.4\\.43\\.46\\}
 \Z}
\cell{6}{685.5}{}{
 \sr{sX}{0\\0\\0\\0\\0\\0\\.01\\.02\\.02\\.03\\}
 \Z}
\cell{7}{685.5}{}{
 \sr{sS}{0\\.03\\.04\\.04\\.04\\.04\\.04\\.04\\.04\\.04\\}
 \Z}
\cell{8}{685.5}{}{
 \sr{sC}{0\\0\\0\\0\\0\\0\\0\\0\\.03\\.06\\}
 \Z}
\cell{9}{685.5}{}{\Z}
% ---- row 5 (>25%)
\cell{0}{739.9}{first}{
 \sr{sE}{0\\0\\0\\0\\.02\\.06\\.08\\.09\\.1\\.11\\}
 \Z}
\cell{1}{739.9}{}{
 \sr{sE}{0\\0\\0\\0\\0\\.01\\.02\\.02\\.03\\.03\\}
 \Z}
\cell{2}{739.9}{}{
 \sr{sC}{0\\0\\0\\.15\\.17\\.2\\.23\\.26\\.3\\.32\\}
 \sr{sP}{0\\0\\0\\0\\0\\.03\\.07\\.11\\.15\\.19\\}
 \Z}
\cell{3}{739.9}{}{
 \sr{sE}{0\\0\\0\\0\\0\\0\\.01\\.02\\.03\\.05\\}
 \sr{sP}{0\\0\\.96\\.96\\1\\1\\1\\1\\1\\1\\}
 \Z}
\cell{4}{739.9}{}{
 \sr{sS}{0\\0\\0\\0\\0\\0\\0\\.01\\.01\\.02\\}
 \Z}
\cell{5}{739.9}{}{
 \sr{sX}{0\\0\\0\\0\\.1\\.1\\.11\\.14\\.16\\.18\\}
 \sr{sP}{0\\0\\0\\0\\0\\0\\.06\\.13\\.2\\.28\\}
 \Z}
\cell{6}{739.9}{}{\Z}
\cell{7}{739.9}{}{\Z}
\cell{8}{739.9}{}{\Z}
\cell{9}{739.9}{}{\Z}
% ---- row 6 (>50%)
\cell{0}{794.3}{first}{\Z}
\cell{1}{794.3}{}{\Z}
\cell{2}{794.3}{}{\Z}
\cell{3}{794.3}{}{
 \sr{sP}{0\\0\\.83\\.83\\.83\\.83\\1\\1\\1\\1\\}
 \Z}
\cell{4}{794.3}{}{\Z}
\cell{5}{794.3}{}{\Z}
\cell{6}{794.3}{}{\Z}
\cell{7}{794.3}{}{\Z}
\cell{8}{794.3}{}{\Z}
\cell{9}{794.3}{}{\Z}
\end{tikzpicture}
\end{document}
